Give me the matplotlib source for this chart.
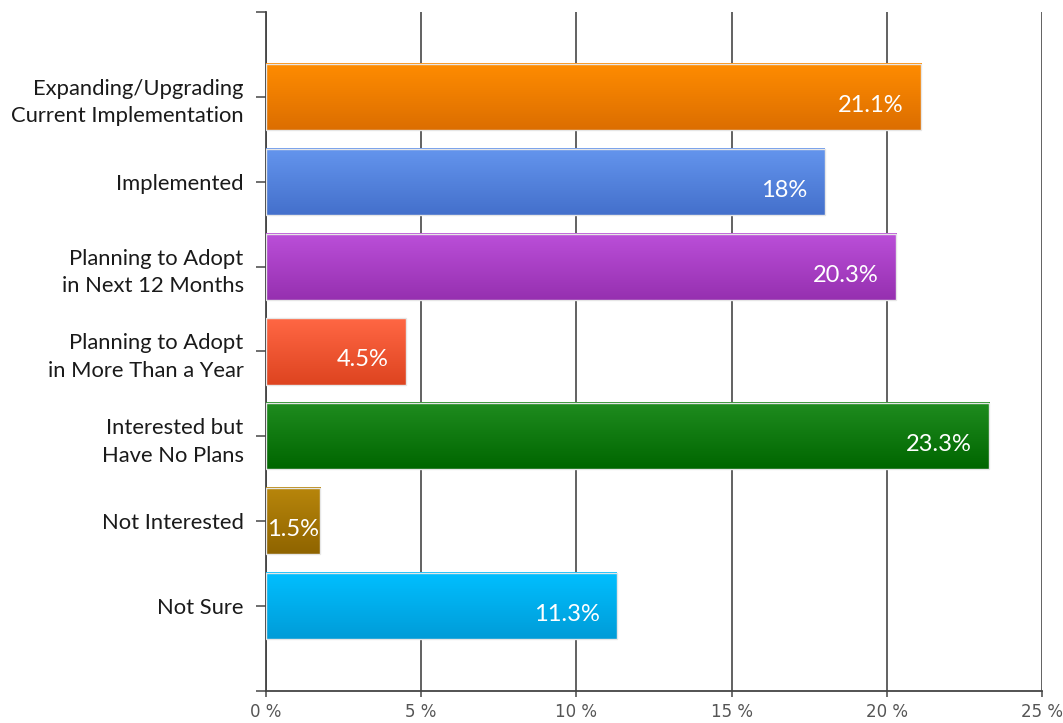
import numpy as np
import matplotlib.pyplot as plt
from matplotlib.colors import to_rgb
from matplotlib.patches import Rectangle

categories = ['Expanding/Upgrading\nCurrent Implementation', 'Implemented',
              'Planning to Adopt\nin Next 12 Months', 'Planning to Adopt\nin More Than a Year',
              'Interested but\nHave No Plans', 'Not Interested', 'Not Sure']
values = [21.1, 18.0, 20.3, 4.5, 23.3, 1.75, 11.3]
labels = ['21.1%', '18%', '20.3%', '4.5%', '23.3%', '1.5%', '11.3%']
top_colors = ['#FF8C00', '#6495ED', '#BB4FD9', '#FF6744', '#1F8C1F', '#B8860B', '#00BFFF']
bottom_colors = ['#DC6E00', '#4470CC', '#9630B0', '#DE4420', '#006600', '#8F6400', '#009CD8']
xticks = [0, 5, 10, 15, 20, 25]

plt.rcParams['font.family'] = ['Lato', 'DejaVu Sans']

fig = plt.figure(figsize=(10.63, 7.23), dpi=100)
ax = fig.add_axes([0.2502, 0.0443, 0.7301, 0.9391])

n = len(categories)
ypos = [n - i for i in range(n)]
h = 0.78

for y, v, lab, c1, c2 in zip(ypos, values, labels, top_colors, bottom_colors):
    t = np.linspace(0, 1, 64)[:, None, None]
    grad = (1 - t) * np.array(to_rgb(c1)) + t * np.array(to_rgb(c2))
    ax.imshow(grad, extent=(0, v, y - h / 2, y + h / 2), origin='upper',
              aspect='auto', zorder=3, interpolation='bilinear')
    ax.add_patch(Rectangle((0, y - h / 2), v, h, fill=False, edgecolor='#e6e6e6',
                           lw=1, zorder=4))
    if v > 3:
        ax.text(v - 0.55, y - 0.1, lab, ha='right', va='center', color='white',
                fontsize=17, zorder=5)
    else:
        ax.text(0.05, y - 0.1, lab, ha='left', va='center', color='white',
                fontsize=17, zorder=5)

ax.set_xlim(0, 25)
ax.set_ylim(0, n + 1)
ax.set_xticks(xticks)
ax.set_xticklabels(['%d %%' % x for x in xticks], color='#555555', fontsize=12,
                   family=['Liberation Sans Narrow', 'DejaVu Sans'])
ax.set_yticks(list(range(0, n + 2)))
ax.set_yticklabels([''] + categories[::-1] + [''], fontsize=15.8, color='#1a1a1a',
                   linespacing=1.45)
ax.tick_params(axis='y', length=7, width=1.2, color='#555555', pad=9)
ax.tick_params(axis='x', length=4.5, width=1.2, color='#555555', pad=4)

ax.grid(axis='x', color='#555555', lw=1.3, zorder=0)
ax.set_axisbelow(True)
for s in ['top', 'right']:
    ax.spines[s].set_visible(False)
for s in ['left', 'bottom']:
    ax.spines[s].set_color('#444444')
    ax.spines[s].set_linewidth(1.3)

fig.savefig('out.png', dpi=100, facecolor='white')
